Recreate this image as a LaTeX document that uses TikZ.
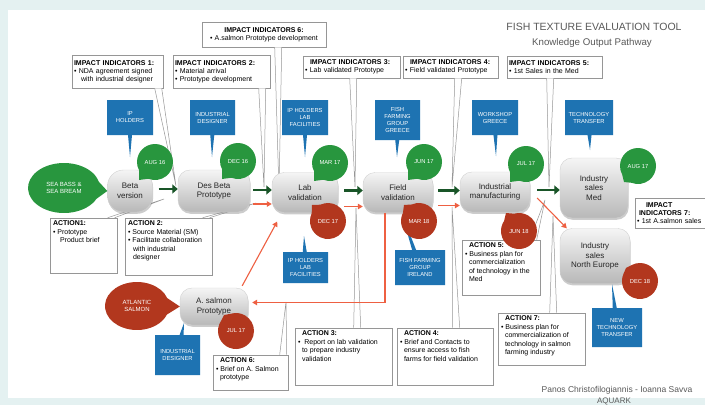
\documentclass[tikz,border=0pt]{standalone}
\usepackage{fontspec}
\setmainfont{Liberation Sans}
\usetikzlibrary{shapes.callouts,arrows.meta,shadows}
\definecolor{bgteal}{RGB}{228,241,241}
\definecolor{blu}{RGB}{30,115,178}
\definecolor{grn}{RGB}{40,150,62}
\definecolor{redc}{RGB}{178,55,30}
\definecolor{dgrn}{RGB}{25,85,40}
\definecolor{salm}{RGB}{238,96,66}
\definecolor{lgray}{RGB}{150,150,150}
\newcommand{\acttext}[3]{\parbox[c][#1][t]{#2}{\raggedright #3}}
\tikzset{
 stage/.style={rounded corners=12pt, top color=black!4, bottom color=black!28, draw=black!18,
   drop shadow={shadow xshift=0.6pt,shadow yshift=-1.8pt,opacity=0.4},
   align=center, font=\fontsize{8}{9.5}\selectfont, text=black!85, inner sep=1pt},
 gdate/.style={ellipse callout, fill=grn, text=white, font=\fontsize{5.8}{6.5}\selectfont,
   minimum width=36pt, minimum height=36pt, inner sep=0pt, callout pointer arc=40, align=center},
 rdate/.style={gdate, fill=redc},
 bluebox/.style={rectangle callout, fill=blu, text=white, font=\fontsize{5.8}{7}\selectfont,
   align=center, inner sep=1pt, callout pointer width=4pt},
 iibox/.style={draw=lgray, fill=white, line width=0.6pt, align=left,
   font=\fontsize{7}{8}\selectfont, inner sep=2pt,
   drop shadow={shadow xshift=0.8pt,shadow yshift=-0.8pt,opacity=0.3}},
 actbox/.style={iibox, font=\fontsize{7}{8.5}\selectfont, inner sep=3pt},
 wedge/.style={draw=lgray, fill=white, line width=0.5pt},
 garrow/.style={dgrn, line width=2.8pt, -{Triangle[length=5.5pt,width=9pt]}},
 rarrow/.style={salm, line width=1.1pt, -{Triangle[length=5pt,width=5.5pt]}},
 titlet/.style={text=black!65, inner sep=0pt},
}
\begin{document}
\begin{tikzpicture}[x=1pt,y=-1pt]
\useasboundingbox (0,0) rectangle (705,405);
\fill[bgteal] (0,0) rectangle (705,405);
\fill[white] (8,10) rectangle (705,398);

% title and authors
\node[titlet, font=\fontsize{10.5}{12}\selectfont] (title1) at (594,27) {FISH TEXTURE EVALUATION TOOL};
\node[titlet, font=\fontsize{9.7}{11}\selectfont] (title2) at (592,43) {Knowledge Output Pathway};
\node[titlet, font=\fontsize{8.5}{10}\selectfont] (auth1) at (617,390) {Panos Christofilogiannis - Ioanna Savva};
\node[titlet, font=\fontsize{8}{10}\selectfont] (auth2) at (614,401) {AQUARK};

% impact indicator boxes
\node[iibox, minimum width=91pt, minimum height=33pt, text width=87pt] (ii1) at (117.5,71.5)
  {\textbf{IMPACT INDICATORS 1:}\\\textbullet\ NDA agreement signed\\\hspace*{7pt}with industrial designer};
\node[iibox, minimum width=97pt, minimum height=33pt, text width=93pt] (ii2) at (221.5,71.5)
  {\textbf{IMPACT INDICATORS 2:}\\\textbullet\ Material arrival\\\textbullet\ Prototype development};
\node[iibox, minimum width=124pt, minimum height=25pt, align=center] (ii6) at (264,34.5)
  {\textbf{IMPACT INDICATORS 6:}\\\textbullet\ A.salmon Prototype development};
\node[iibox, minimum width=97pt, minimum height=22pt, text width=93pt] (ii3) at (351.5,67)
  {\hspace*{5pt}\textbf{IMPACT INDICATORS 3:}\\\textbullet\ Lab validated Prototype};
\node[iibox, minimum width=95pt, minimum height=22pt, text width=91pt] (ii4) at (450.5,67)
  {\hspace*{5pt}\textbf{IMPACT INDICATORS 4:}\\\textbullet\ Field validated Prototype};
\node[iibox, minimum width=95pt, minimum height=22pt, text width=91pt] (ii5) at (554.5,67)
  {\textbf{IMPACT INDICATORS 5:}\\\textbullet\ 1st Sales in the Med};
\node[iibox, minimum width=82pt, minimum height=30pt, text width=78pt] (ii7) at (676,213)
  {\hspace*{9pt}\textbf{IMPACT}\\\hspace*{2pt}\textbf{INDICATORS 7:}\\\textbullet\ 1st A.salmon sales};

% action boxes
\node[actbox] (act1) at (83.5,245.5) {\acttext{49pt}{61pt}{\textbf{ACTION1:}\\\textbullet\ Prototype\\\hspace*{7pt}Product brief}};
\node[actbox] (act2) at (168.5,246.5) {\acttext{51pt}{81pt}{\textbf{ACTION 2:}\\\textbullet\ Source Material (SM)\\\textbullet\ Facilitate collaboration\\\hspace*{5pt}with industrial\\\hspace*{5pt}designer}};
\node[actbox] (act3) at (343.5,356.5) {\acttext{51pt}{91pt}{\hspace*{4pt}\textbf{ACTION 3:}\\\textbullet\ \ Report on lab validation\\\hspace*{4pt}to prepare industry\\\hspace*{4pt}validation}};
\node[actbox] (act4) at (445,356.5) {\acttext{51pt}{90pt}{\hspace*{4pt}\textbf{ACTION 4:}\\\textbullet\ Brief and Contacts to\\\hspace*{4pt}ensure access to fish\\\hspace*{4pt}farms for field validation}};
\node[actbox] (act5) at (501,267.5) {\acttext{49pt}{72pt}{\hspace*{4pt}\textbf{ACTION 5:}\\\textbullet\ Business plan for\\\hspace*{4pt}commercialization\\\hspace*{4pt}of technology in the\\\hspace*{4pt}Med}};
\node[actbox] (act6) at (250.5,372.5) {\acttext{29pt}{69pt}{\hspace*{4pt}\textbf{ACTION 6:}\\\textbullet\ Brief on A. Salmon\\\hspace*{4pt}prototype}};
\node[actbox] (act7) at (541.5,339) {\acttext{46pt}{81pt}{\hspace*{4pt}\textbf{ACTION 7:}\\\textbullet\ Business plan for\\\hspace*{4pt}commercialization of\\\hspace*{4pt}technology in salmon\\\hspace*{4pt}farming industry}};

% pointer tips of the callout wedges
\coordinate (t1) at (176,186);
\coordinate (t2) at (264,187);
\coordinate (t6) at (279,192);
\coordinate (t3) at (355,187);
\coordinate (t4) at (452,187);
\coordinate (t5) at (549,187);
\coordinate (ta1) at (164,199);
\coordinate (ta2) at (256,203);
\coordinate (ta3) at (356,208);
\coordinate (ta4) at (452,207);
\coordinate (ta5) at (545,200);
\coordinate (ta6) at (286,302);
\coordinate (ta7) at (553,216);

\draw[wedge] ([xshift=83pt]ii1.south west) -- (t1) -- ([xshift=90pt]ii1.south west);
\draw[wedge] ([xshift=86pt]ii2.south west) -- (t2) -- ([xshift=93pt]ii2.south west);
\draw[wedge] ([xshift=73pt]ii6.south west) -- (t6) -- ([xshift=80pt]ii6.south west);
\draw[wedge] ([xshift=47pt]ii3.south west) -- (t3) -- ([xshift=54pt]ii3.south west);
\draw[wedge] ([xshift=52pt]ii4.south west) -- (t4) -- ([xshift=59pt]ii4.south west);
\draw[wedge] ([xshift=40pt]ii5.south west) -- (t5) -- ([xshift=47pt]ii5.south west);
\draw[wedge] ([xshift=58pt]act1.north west) -- (ta1) -- ([xshift=65pt]act1.north west);
\draw[wedge] ([xshift=78pt]act2.north west) -- (ta2) -- ([xshift=85pt]act2.north west);
\draw[wedge] ([xshift=59pt]act3.north west) -- (ta3) -- ([xshift=66pt]act3.north west);
\draw[wedge] ([xshift=56pt]act4.north west) -- (ta4) -- ([xshift=63pt]act4.north west);
\draw[wedge] ([xshift=68pt]act5.north west) -- (ta5) -- ([xshift=75pt]act5.north west);
\draw[wedge] ([xshift=67pt]act6.north west) -- (ta6) -- ([xshift=74pt]act6.north west);
\draw[wedge] ([xshift=52pt]act7.north west) -- (ta7) -- ([xshift=59pt]act7.north west);

% blue partner boxes
\node[bluebox, minimum width=46pt, minimum height=35pt, callout absolute pointer={(130,157)}] (iph1) at (130,117.5) {IP\\HOLDERS};
\node[bluebox, minimum width=45pt, minimum height=35pt, callout absolute pointer={(212,157)}] (inddes1) at (212.5,117.5) {INDUSTRIAL\\DESIGNER};
\node[bluebox, minimum width=46pt, minimum height=35pt, callout absolute pointer={(305,157)}] (iplab1) at (305,117.5) {IP HOLDERS\\LAB\\FACILITIES};
\node[bluebox, minimum width=45pt, minimum height=40pt, callout absolute pointer={(397,157)}] (fishgr) at (397.5,120) {FISH\\FARMING\\GROUP\\GREECE};
\node[bluebox, minimum width=46pt, minimum height=35pt, callout absolute pointer={(496,156)}] (workshop) at (495,117.5) {WORKSHOP\\GREECE};
\node[bluebox, minimum width=48pt, minimum height=35pt, callout absolute pointer={(590,150)}] (techtr) at (589,117.5) {TECHNOLOGY\\TRANSFER};
\node[bluebox, minimum width=45pt, minimum height=31pt, callout absolute pointer={(304,236)}] (iplab2) at (305.5,267.5) {IP HOLDERS\\LAB\\FACILITIES};
\node[bluebox, minimum width=50pt, minimum height=35pt, callout absolute pointer={(402,214)}] (fishir) at (420,267.5) {FISH FARMING\\GROUP\\IRELAND};
\node[bluebox, minimum width=50pt, minimum height=39pt, callout absolute pointer={(612,284)}] (techtr2) at (617,327.5) {NEW\\TECHNOLOGY\\TRANSFER};
\node[bluebox, minimum width=45pt, minimum height=40pt, callout absolute pointer={(184,323)}] (inddes2) at (177.5,355) {INDUSTRIAL\\DESIGNER};

% stage nodes
\node[stage, rounded corners=16pt, minimum width=45pt, minimum height=42pt] (beta) at (130,191) {Beta\\version};
\node[stage, minimum width=72pt, minimum height=42pt] (desproto) at (214,191) {Des Beta\\Prototype};
\node[stage, minimum width=66pt, minimum height=40pt] (lab) at (305,192.5) {Lab\\validation};
\node[stage, minimum width=70pt, minimum height=40pt] (field) at (398,192.5) {Field\\validation};
\node[stage, minimum width=70pt, minimum height=40pt] (indman) at (495,192) {Industrial\\manufacturing};
\node[stage, minimum width=68pt, minimum height=60pt] (med) at (594,188) {Industry\\sales\\Med};
\node[stage, minimum width=70pt, minimum height=55pt] (neur) at (595,256) {Industry\\sales\\North Europe};
\node[stage, minimum width=68pt, minimum height=37pt] (asal) at (214,306.5) {A. salmon\\Prototype};

% date bubbles
\node[gdate, minimum width=72pt, minimum height=50pt, font=\fontsize{6}{7}\selectfont, callout absolute pointer={(beta.west)}] (seabass) at (64,188) {SEA BASS \&\\SEA BREAM};
\node[rdate, minimum width=64pt, minimum height=48pt, font=\fontsize{6}{7}\selectfont, callout absolute pointer={(asal.west)}] (atlsal) at (137,306) {ATLANTIC\\SALMON};
\node[gdate, callout absolute pointer={(139,180)}] (aug16) at (155,162) {AUG 16};
\node[gdate, callout absolute pointer={(222,179)}] (dec16) at (238,161) {DEC 16};
\node[gdate, callout absolute pointer={(314,181)}] (mar17) at (330,163) {MAR 17};
\node[gdate, callout absolute pointer={(408,180)}] (jun17) at (424,162) {JUN 17};
\node[gdate, callout absolute pointer={(510,182)}] (jul17g) at (526,164) {JUL 17};
\node[gdate, callout absolute pointer={(624,182)}] (aug17) at (638,166) {AUG 17};
\node[rdate, callout absolute pointer={(312,205)}] (dec17) at (328,221) {DEC 17};
\node[rdate, callout absolute pointer={(404,205)}] (mar18) at (419,221) {MAR 18};
\node[rdate, callout absolute pointer={(506,213)}] (jun18) at (519,231) {JUN 18};
\node[rdate, callout absolute pointer={(626,268)}] (dec18) at (640,281) {DEC 18};
\node[rdate, callout absolute pointer={(224,315)}] (jul17r) at (236,331) {JUL 17};

% main pathway arrows
\draw[garrow, shorten <=6pt] ([yshift=2pt]beta.east) -- ([yshift=2pt]beta.east -| desproto.west);
\draw[garrow, shorten <=3pt] ([yshift=1pt]desproto.east) -- ([yshift=1pt]desproto.east -| lab.west);
\draw[garrow, shorten <=6pt] ([yshift=2pt]lab.east) -- ([yshift=2pt]lab.east -| field.west);
\draw[garrow, shorten <=5pt] ([yshift=2pt]field.east) -- ([yshift=2pt]field.east -| indman.west);
\draw[garrow, shorten <=7pt] ([yshift=2pt]indman.east) -- ([yshift=2pt]indman.east -| med.west);

% salmon pathway arrows
\draw[rarrow, shorten <=3pt] ([yshift=-13pt]desproto.east) -- ([yshift=-13pt]desproto.east -| lab.west);
\draw[rarrow, shorten <=6pt] ([yshift=-14pt]lab.east) -- ([yshift=-14pt]lab.east -| field.west);
\draw[rarrow, shorten <=5pt] ([yshift=-13pt]field.east) -- ([yshift=-13pt]field.east -| indman.west);
\draw[rarrow] ([xshift=7pt,yshift=-6pt]indman.east) -- ([xshift=7pt]neur.north west);
\draw[rarrow] ([xshift=-13pt]field.south) |- ([yshift=4pt,xshift=4pt]asal.east);
\draw[rarrow, shorten >=10pt] ([xshift=-6pt,yshift=2pt]asal.north east) -- ([xshift=-23pt]lab.south);
\end{tikzpicture}
\end{document}
